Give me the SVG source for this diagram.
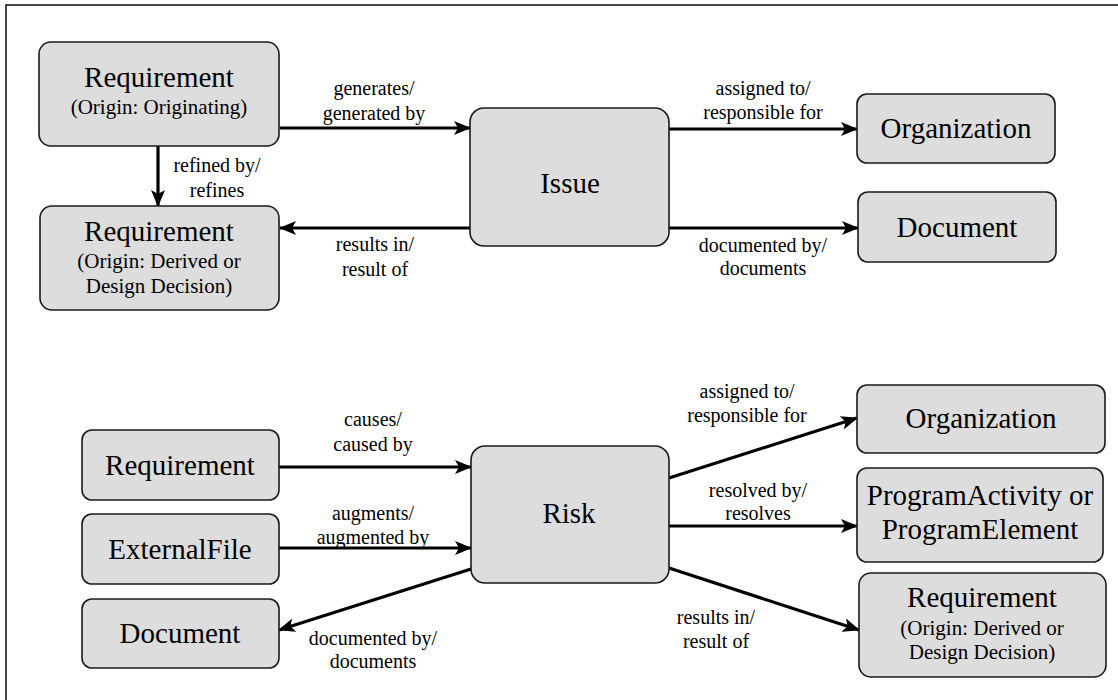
<svg xmlns="http://www.w3.org/2000/svg" width="1118" height="700" viewBox="0 0 1118 700">
<style>
.box{fill:#dddddd;stroke:#1a1a1a;stroke-width:1.6}
.t{font-family:"Liberation Serif","Times New Roman",serif;fill:#000;text-anchor:middle}
.big{font-size:29px}
.sm{font-size:21px}
.lb{font-size:20px}
.c{stroke:#000;stroke-width:3.2;fill:none;marker-end:url(#ah)}
</style>
<defs>
<marker id="ah" markerUnits="userSpaceOnUse" markerWidth="18" markerHeight="14" refX="16" refY="7" orient="auto">
<path d="M0,0 L17,7 L0,14 L4,7 z" fill="#000"/>
</marker>
</defs>
<rect x="0" y="0" width="1118" height="700" fill="#fff"/>
<rect x="6" y="5" width="1130" height="710" fill="none" stroke="#1a1a1a" stroke-width="1.6"/>

<g id="connectors">
<line class="c" x1="280" y1="128" x2="470" y2="128"/>
<line class="c" x1="158" y1="146" x2="158" y2="206"/>
<line class="c" x1="470" y1="228" x2="280" y2="228"/>
<line class="c" x1="669" y1="129" x2="857" y2="129"/>
<line class="c" x1="669" y1="228" x2="858" y2="228"/>
<line class="c" x1="279" y1="467" x2="471" y2="467"/>
<line class="c" x1="279" y1="548" x2="471" y2="548"/>
<line class="c" x1="471" y1="569" x2="279" y2="630"/>
<line class="c" x1="669" y1="478" x2="857" y2="418"/>
<line class="c" x1="669" y1="526" x2="857" y2="526"/>
<line class="c" x1="669" y1="568" x2="859" y2="630"/>
</g>

<g id="labels">
<text class="t lb" x="374" y="95">generates/</text>
<text class="t lb" x="374" y="120">generated by</text>
<text class="t lb" x="217" y="172">refined by/</text>
<text class="t lb" x="217" y="197">refines</text>
<text class="t lb" x="375" y="251">results in/</text>
<text class="t lb" x="375" y="276">result of</text>
<text class="t lb" x="763" y="95">assigned to/</text>
<text class="t lb" x="763" y="119">responsible for</text>
<text class="t lb" x="763" y="252">documented by/</text>
<text class="t lb" x="763" y="275">documents</text>
<text class="t lb" x="373" y="426">causes/</text>
<text class="t lb" x="373" y="451">caused by</text>
<text class="t lb" x="373" y="520">augments/</text>
<text class="t lb" x="373" y="544">augmented by</text>
<text class="t lb" x="373" y="645">documented by/</text>
<text class="t lb" x="373" y="668">documents</text>
<text class="t lb" x="747" y="398">assigned to/</text>
<text class="t lb" x="747" y="422">responsible for</text>
<text class="t lb" x="758" y="497">resolved by/</text>
<text class="t lb" x="758" y="520">resolves</text>
<text class="t lb" x="716" y="624">results in/</text>
<text class="t lb" x="716" y="648">result of</text>
</g>

<g id="req-originating">
<rect class="box" x="39" y="42" width="240" height="104" rx="12"/>
<text class="t big" x="159" y="87">Requirement</text>
<text class="t sm" x="159" y="114">(Origin: Originating)</text>
</g>
<g id="req-derived-1">
<rect class="box" x="40" y="206" width="239" height="104" rx="12"/>
<text class="t big" x="159" y="241">Requirement</text>
<text class="t sm" x="159" y="268">(Origin: Derived or</text>
<text class="t sm" x="159" y="293">Design Decision)</text>
</g>
<g id="issue">
<rect class="box" x="470" y="108" width="199" height="138" rx="14"/>
<text class="t big" x="570" y="193">Issue</text>
</g>
<g id="organization-1">
<rect class="box" x="857" y="94" width="198" height="69" rx="10"/>
<text class="t big" x="956" y="138">Organization</text>
</g>
<g id="document-1">
<rect class="box" x="858" y="192" width="198" height="70" rx="10"/>
<text class="t big" x="957" y="237">Document</text>
</g>
<g id="requirement-2">
<rect class="box" x="82" y="430" width="197" height="70" rx="10"/>
<text class="t big" x="180" y="475">Requirement</text>
</g>
<g id="externalfile">
<rect class="box" x="82" y="514" width="197" height="70" rx="10"/>
<text class="t big" x="180" y="559">ExternalFile</text>
</g>
<g id="document-2">
<rect class="box" x="82" y="599" width="197" height="69" rx="10"/>
<text class="t big" x="180" y="643">Document</text>
</g>
<g id="risk">
<rect class="box" x="471" y="446" width="198" height="137" rx="14"/>
<text class="t big" x="569" y="523">Risk</text>
</g>
<g id="organization-2">
<rect class="box" x="857" y="385" width="248" height="68" rx="10"/>
<text class="t big" x="981" y="428">Organization</text>
</g>
<g id="programactivity">
<rect class="box" x="857" y="468" width="246" height="94" rx="10"/>
<text class="t big" x="980" y="505">ProgramActivity or</text>
<text class="t big" x="980" y="539">ProgramElement</text>
</g>
<g id="req-derived-2">
<rect class="box" x="859" y="573" width="247" height="104" rx="12"/>
<text class="t big" x="982" y="607">Requirement</text>
<text class="t sm" x="982" y="635">(Origin: Derived or</text>
<text class="t sm" x="982" y="659">Design Decision)</text>
</g>
</svg>
